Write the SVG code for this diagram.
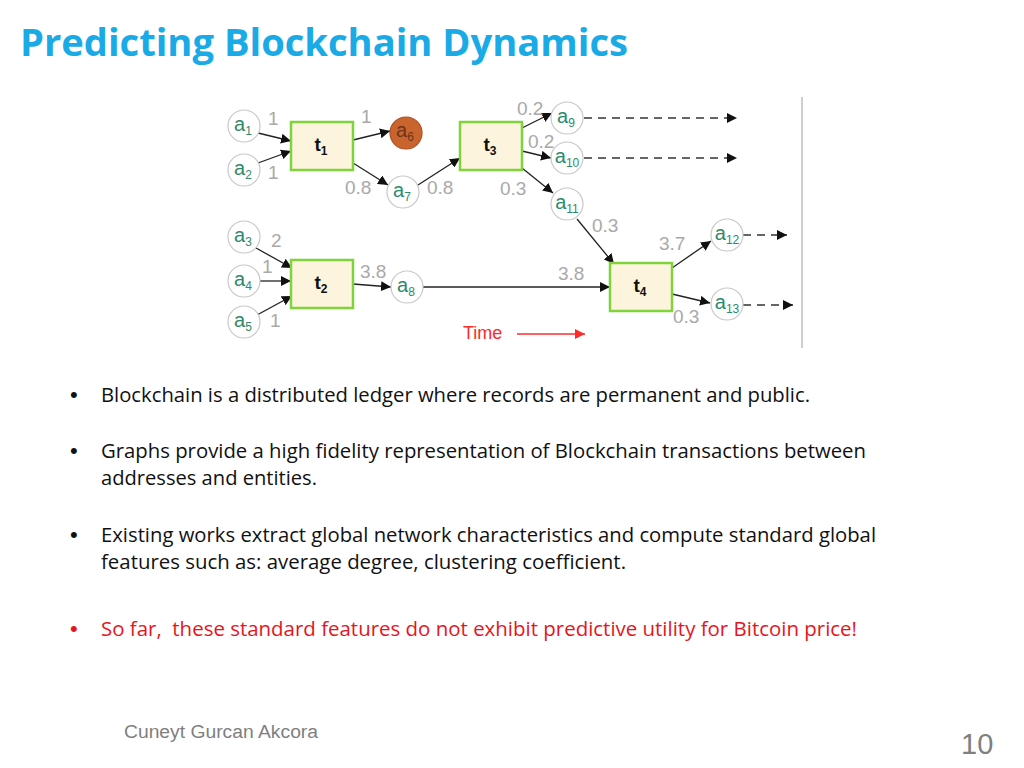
<svg xmlns="http://www.w3.org/2000/svg" width="1024" height="768" viewBox="0 0 1024 768">
<defs>
<marker id="ah" viewBox="0 0 10 10" refX="10" refY="5" markerWidth="10" markerHeight="10" markerUnits="userSpaceOnUse" orient="auto"><path d="M0,0 L10,5 L0,10 z" fill="#111"/></marker>
<marker id="ahr" viewBox="0 0 10 10" refX="10" refY="5" markerWidth="10" markerHeight="10" markerUnits="userSpaceOnUse" orient="auto"><path d="M0,0 L10,5 L0,10 z" fill="#ff2a2a"/></marker>
</defs>
<style>
.title{font-family:"Open Sans","Lato",sans-serif;font-weight:bold;font-size:38px;fill:#1aaae6}
.body{font-family:"Open Sans","Noto Sans",sans-serif;font-size:20px;fill:#111}
.dot{font-family:"Liberation Sans",Arial,sans-serif;font-size:22px;fill:#111}
.red{fill:#e8141c}
.circ{fill:#fff;stroke:#c8c8c8;stroke-width:1.2}
.orange{fill:#c9642e;stroke:#b05020;stroke-width:1.2}
.box{fill:#fcf4dc;stroke:#7ed43a;stroke-width:2.5}
.al{font-family:"Liberation Sans",Arial,sans-serif;font-size:20px;fill:#2d8a6a;text-anchor:middle}
.tl{font-family:"Liberation Sans",Arial,sans-serif;font-size:19px;font-weight:bold;fill:#111;text-anchor:middle}
.sub{font-size:12px}
.el{font-family:"Liberation Sans",Arial,sans-serif;font-size:19px;fill:#a9a9a9}
.e{stroke:#222;stroke-width:1.3;fill:none;marker-end:url(#ah)}
.d{stroke:#333;stroke-width:1.3;fill:none;stroke-dasharray:8,6;marker-end:url(#ah)}
.foot{font-family:"Liberation Sans",Arial,sans-serif;fill:#7f7f7f}
</style>
<rect width="1024" height="768" fill="#fff"/>
<text class="title" x="20" y="56" textLength="608" lengthAdjust="spacingAndGlyphs">Predicting Blockchain Dynamics</text>

<line x1="802" y1="97" x2="802" y2="348" stroke="#bdbdbd" stroke-width="1.5"/>

<g id="connectors">
<line class="e" x1="258" y1="133" x2="291" y2="141"/>
<line class="e" x1="258" y1="163" x2="291" y2="151"/>
<line class="e" x1="353" y1="140" x2="390" y2="131"/>
<line class="e" x1="353" y1="163" x2="388" y2="185"/>
<line class="e" x1="418" y1="185" x2="460" y2="158"/>
<line class="e" x1="522" y1="128" x2="552" y2="113"/>
<line class="e" x1="522" y1="151" x2="551" y2="158"/>
<line class="e" x1="522" y1="168" x2="553" y2="193"/>
<line class="e" x1="577" y1="219" x2="614" y2="264"/>
<line class="e" x1="256" y1="248" x2="292" y2="268"/>
<line class="e" x1="260" y1="281" x2="291" y2="281"/>
<line class="e" x1="257" y1="315" x2="292" y2="296"/>
<line class="e" x1="353" y1="284" x2="391" y2="287"/>
<line class="e" x1="423" y1="287" x2="610" y2="287"/>
<line class="e" x1="672" y1="268" x2="711" y2="241"/>
<line class="e" x1="672" y1="294" x2="710" y2="303"/>
<line class="d" x1="584" y1="118" x2="737" y2="118"/>
<line class="d" x1="584" y1="158" x2="737" y2="158"/>
<line class="d" x1="743" y1="235" x2="787" y2="235"/>
<line class="d" x1="743" y1="305" x2="793" y2="305"/>
<line x1="517" y1="334" x2="585" y2="334" stroke="#ff2a2a" stroke-width="1.3" marker-end="url(#ahr)"/>
</g>

<g id="edge-labels">
<text class="el" x="268" y="125">1</text>
<text class="el" x="268" y="179">1</text>
<text class="el" x="361" y="123">1</text>
<text class="el" x="345" y="194">0.8</text>
<text class="el" x="427" y="194">0.8</text>
<text class="el" x="517" y="115">0.2</text>
<text class="el" x="528" y="148">0.2</text>
<text class="el" x="500" y="195">0.3</text>
<text class="el" x="592" y="232">0.3</text>
<text class="el" x="659" y="250">3.7</text>
<text class="el" x="558" y="280">3.8</text>
<text class="el" x="673" y="323">0.3</text>
<text class="el" x="271" y="247">2</text>
<text class="el" x="262" y="273">1</text>
<text class="el" x="270" y="327">1</text>
<text class="el" x="360" y="278">3.8</text>
<text x="463" y="339" font-family="Liberation Sans, Arial, sans-serif" font-size="18" fill="#ff2a2a">Time</text>
</g>

<g id="a1"><circle class="circ" cx="244" cy="126" r="16"/><text class="al" x="243" y="131">a<tspan class="sub" dy="4">1</tspan></text></g>
<g id="a2"><circle class="circ" cx="244" cy="170" r="16"/><text class="al" x="243" y="175">a<tspan class="sub" dy="4">2</tspan></text></g>
<g id="a3"><circle class="circ" cx="244" cy="237" r="16"/><text class="al" x="243" y="242">a<tspan class="sub" dy="4">3</tspan></text></g>
<g id="a4"><circle class="circ" cx="244" cy="281" r="16"/><text class="al" x="243" y="286">a<tspan class="sub" dy="4">4</tspan></text></g>
<g id="a5"><circle class="circ" cx="244" cy="322" r="16"/><text class="al" x="243" y="327">a<tspan class="sub" dy="4">5</tspan></text></g>
<g id="a6"><circle class="orange" cx="406" cy="133" r="16"/><text class="al" x="405" y="137" style="fill:#6e3418">a<tspan class="sub" dy="4">6</tspan></text></g>
<g id="a7"><circle class="circ" cx="403" cy="192" r="16"/><text class="al" x="402" y="197">a<tspan class="sub" dy="4">7</tspan></text></g>
<g id="a8"><circle class="circ" cx="407" cy="287" r="16"/><text class="al" x="406" y="292">a<tspan class="sub" dy="4">8</tspan></text></g>
<g id="a9"><circle class="circ" cx="567" cy="118" r="16"/><text class="al" x="566" y="123">a<tspan class="sub" dy="4">9</tspan></text></g>
<g id="a10"><circle class="circ" cx="567" cy="158" r="16"/><text class="al" x="567" y="163">a<tspan class="sub" dy="4">10</tspan></text></g>
<g id="a11"><circle class="circ" cx="567" cy="204" r="16"/><text class="al" x="567" y="209">a<tspan class="sub" dy="4">11</tspan></text></g>
<g id="a12"><circle class="circ" cx="727" cy="235" r="16"/><text class="al" x="727" y="240">a<tspan class="sub" dy="4">12</tspan></text></g>
<g id="a13"><circle class="circ" cx="727" cy="304" r="16"/><text class="al" x="727" y="309">a<tspan class="sub" dy="4">13</tspan></text></g>

<g id="t1"><rect class="box" x="291" y="122" width="62" height="48"/><text class="tl" x="321" y="151">t<tspan class="sub" dy="4">1</tspan></text></g>
<g id="t2"><rect class="box" x="291" y="260" width="62" height="48"/><text class="tl" x="321" y="289">t<tspan class="sub" dy="4">2</tspan></text></g>
<g id="t3"><rect class="box" x="460" y="122" width="62" height="48"/><text class="tl" x="490" y="151">t<tspan class="sub" dy="4">3</tspan></text></g>
<g id="t4"><rect class="box" x="610" y="263" width="62" height="48"/><text class="tl" x="640" y="292">t<tspan class="sub" dy="4">4</tspan></text></g>

<g id="bullets">
<text class="dot" x="70" y="402">•</text>
<text class="body" x="101" y="402" textLength="709" lengthAdjust="spacingAndGlyphs">Blockchain is a distributed ledger where records are permanent and public.</text>
<text class="dot" x="70" y="458">•</text>
<text class="body" x="101" y="458" textLength="765" lengthAdjust="spacingAndGlyphs">Graphs provide a high fidelity representation of Blockchain transactions between</text>
<text class="body" x="101" y="485" textLength="216" lengthAdjust="spacingAndGlyphs">addresses and entities.</text>
<text class="dot" x="70" y="542">•</text>
<text class="body" x="101" y="542" textLength="775" lengthAdjust="spacingAndGlyphs">Existing works extract global network characteristics and compute standard global</text>
<text class="body" x="101" y="569" textLength="525" lengthAdjust="spacingAndGlyphs">features such as: average degree, clustering coefficient.</text>
<text class="dot red" x="70" y="636">•</text>
<text class="body red" x="101" y="636" textLength="756" lengthAdjust="spacingAndGlyphs" xml:space="preserve">So far,  these standard features do not exhibit predictive utility for Bitcoin price!</text>
</g>

<text class="foot" x="124" y="738" font-size="18" textLength="194" lengthAdjust="spacingAndGlyphs">Cuneyt Gurcan Akcora</text>
<text class="foot" x="961" y="754" font-size="29">10</text>
</svg>
